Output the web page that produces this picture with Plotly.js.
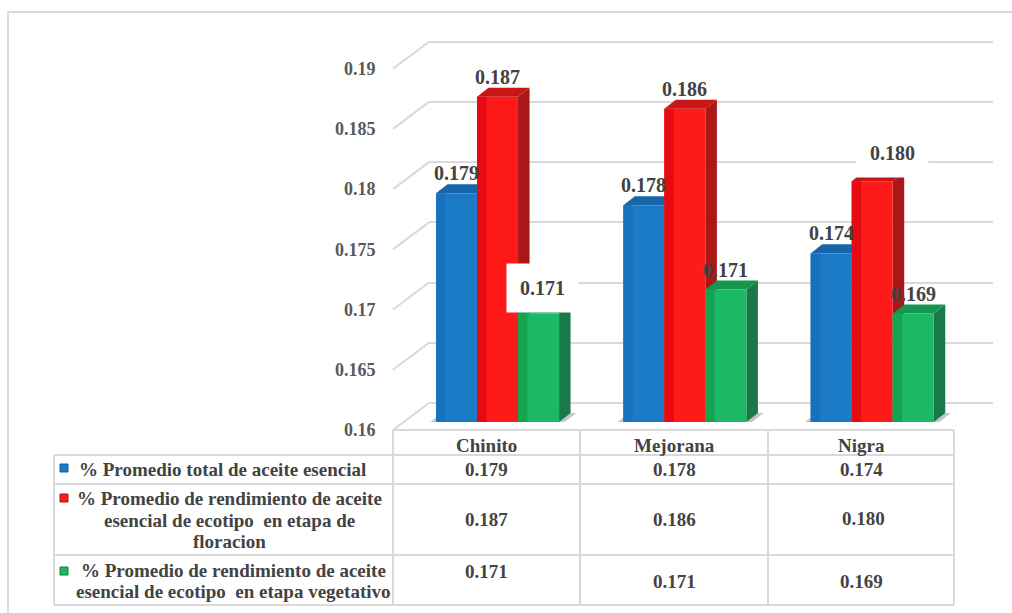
<!DOCTYPE html>
<html>
<head>
<meta charset="utf-8">
<script src="https://cdn.plot.ly/plotly-3.0.1.min.js"></script>
<style>html,body{margin:0;padding:0;background:#fff;}#chart{width:1012px;height:613px;}</style>
</head>
<body>
<div id="chart"></div>
<script>
// ---------- data ----------
const categories = ['Chinito', 'Mejorana', 'Nigra'];
const seriesNames = [
  '% Promedio total de aceite esencial',
  '% Promedio de rendimiento de aceite<br>esencial de ecotipo  en etapa de<br>floracion',
  '% Promedio de rendimiento de aceite<br>esencial de ecotipo  en etapa vegetativo'
];
// bar heights as drawn
const totalValues      = [0.179, 0.178, 0.174];
const floracionValues  = [0.187, 0.186, 0.180];
const vegetativoValues = [0.169, 0.171, 0.169];
// printed labels / table values
const totalLabels      = ['0.179', '0.178', '0.174'];
const floracionLabels  = ['0.187', '0.186', '0.180'];
const vegetativoLabels = ['0.171', '0.171', '0.169'];
const yTickValues = [0.16, 0.165, 0.17, 0.175, 0.18, 0.185, 0.19];
const yTickText   = ['0.16', '0.165', '0.17', '0.175', '0.18', '0.185', '0.19'];

// ---------- styling / geometry ----------
const W = 1012, H = 613;
const PX = p => p / W;             // pixel -> paper x
const PY = p => 1 - p / H;         // pixel -> paper y
const yMin = 0.16, yMax = 0.19;
const fontFam = 'Liberation Serif, Times New Roman, serif';
const txtColor = '#434343';
const gridColor = '#d9d9d9';

const front = ['#1b7bc6', '#ff1a1a', '#1bb865'];
const bevel = ['#1872bb', '#e60a12', '#14a452'];
const side  = ['#145d97', '#a91717', '#1a7a47'];
const top_  = ['#1766a9', '#c81515', '#16954f'];

const barW = 0.219;
const bevelW = 0.05;
const offsets = [-0.2705, -0.0515, 0.1675];
const depthX = 0.0614;     // category units
const depthY = 0.00075;    // value units

const values = [totalValues, floracionValues, vegetativoValues];
const labels = [totalLabels, floracionLabels, vegetativoLabels];
const xIdx = categories.map((c, i) => i);

const traces = [];
// back-wall grid subplot (drawn first)
traces.push({type: 'scatter', x: [0, 1], y: [yMin, yMax], mode: 'none',
  xaxis: 'x', yaxis: 'y', hoverinfo: 'skip', showlegend: false});
// bars: front face + left bevel strip
values.forEach((vals, s) => {
  traces.push({type: 'bar', x: xIdx, y: vals, offset: offsets[s], width: barW,
    marker: {color: front[s], line: {width: 0}},
    name: seriesNames[s].replace(/<br>/g, ' '), hoverinfo: 'skip', showlegend: false,
    xaxis: 'x2', yaxis: 'y2'});
  traces.push({type: 'bar', x: xIdx, y: vals, offset: offsets[s], width: bevelW,
    marker: {color: bevel[s], line: {width: 0}},
    hoverinfo: 'skip', showlegend: false, xaxis: 'x2', yaxis: 'y2'});
});
// front value axis (tick labels)
traces.push({type: 'scatter', x: [0, 1], y: [yMin, yMax], mode: 'none',
  xaxis: 'x2', yaxis: 'y3', hoverinfo: 'skip', showlegend: false});

const shapes = [];
// outer frame
shapes.push({type: 'line', xref: 'paper', yref: 'paper', x0: PX(7), x1: PX(1012), y0: PY(12), y1: PY(12), line: {color: gridColor, width: 2}});
shapes.push({type: 'line', xref: 'paper', yref: 'paper', x0: PX(8), x1: PX(8), y0: PY(12), y1: PY(613), line: {color: gridColor, width: 2}});

// side-wall diagonals from the front tick positions to the back wall
const frontDom = [PY(430), PY(68.7)];
const backDom = [PY(403), PY(41.7)];
const toDom = (v, d) => d[0] + (v - yMin) / (yMax - yMin) * (d[1] - d[0]);
yTickValues.forEach(v => {
  shapes.push({type: 'line', xref: 'paper', yref: 'paper', layer: 'below',
    x0: PX(393), x1: PX(429), y0: toDom(v, frontDom), y1: toDom(v, backDom),
    line: {color: gridColor, width: 2}});
});

// floor shadows
categories.forEach((c, i) => {
  const l = i + offsets[0] - 0.03, r = i + offsets[2] + barW + depthX + 0.03;
  shapes.push({type: 'path', xref: 'x2', yref: 'y2', layer: 'below',
    path: `M${l},${yMin} L${r - depthX},${yMin} L${r},${yMin + depthY} L${l + depthX},${yMin + depthY} Z`,
    fillcolor: 'rgba(90,90,90,0.35)', line: {width: 0}});
});

// 3D side and top faces
values.forEach((vals, s) => {
  vals.forEach((v, i) => {
    const xl = i + offsets[s], xr = xl + barW;
    shapes.push({type: 'path', xref: 'x2', yref: 'y2', layer: 'below',
      path: `M${xr},${yMin} L${xr},${v} L${xr + depthX},${v + depthY} L${xr + depthX},${yMin + depthY} Z`,
      fillcolor: side[s], line: {width: 0}});
    shapes.push({type: 'path', xref: 'x2', yref: 'y2', layer: 'below',
      path: `M${xl},${v} L${xr},${v} L${xr + depthX},${v + depthY} L${xl + depthX},${v + depthY} Z`,
      fillcolor: top_[s], line: {width: 0}});
  });
});

// data table borders
const hLines = [[430, 393, 954], [455, 54, 954], [484, 54, 954], [555, 54, 954], [605, 54, 954]];
hLines.forEach(([y, a, b]) => shapes.push({type: 'line', xref: 'paper', yref: 'paper',
  x0: PX(a), x1: PX(b), y0: PY(y), y1: PY(y), line: {color: gridColor, width: 2}}));
const vLines = [[54, 455, 605], [393, 430, 605], [580, 430, 605], [768, 430, 605], [954, 430, 605]];
vLines.forEach(([x, a, b]) => shapes.push({type: 'line', xref: 'paper', yref: 'paper',
  x0: PX(x), x1: PX(x), y0: PY(a), y1: PY(b), line: {color: gridColor, width: 2}}));

// legend keys in the table
const keyY = [468, 498, 571];
keyY.forEach((y, s) => shapes.push({type: 'rect', xref: 'paper', yref: 'paper',
  x0: PX(60), x1: PX(68), y0: PY(y - 4), y1: PY(y + 4),
  fillcolor: front[s], line: {color: side[s], width: 1}}));

const annotations = [];
const fnt = (size) => ({family: fontFam, size: size, color: txtColor, weight: 'bold'});

// bar data labels
values.forEach((vals, s) => {
  vals.forEach((v, i) => {
    const boxed = (s === 2 && i === 0) || (s === 1 && i === 2);
    let xs = 0, ys = 20;
    if (s === 2 && i === 0) { xs = 4; ys = 26; }
    if (s === 1 && i === 2) { xs = 20; ys = 28; }
    annotations.push({xref: 'x2', yref: 'y2', x: i + offsets[s] + barW / 2, y: v,
      text: labels[s][i], showarrow: false, xanchor: 'center', yanchor: 'middle',
      xshift: xs, yshift: ys, font: fnt(20),
      bgcolor: boxed ? '#ffffff' : 'rgba(0,0,0,0)', borderpad: boxed ? 13 : 0});
  });
});

// table header
const colCenters = [486.5, 674, 861];
categories.forEach((c, i) => annotations.push({xref: 'paper', yref: 'paper',
  x: PX(colCenters[i]), y: PY(445), text: c, showarrow: false, font: fnt(19),
  xanchor: 'center', yanchor: 'middle'}));

// row labels (one annotation per line, tight line spacing)
const rowCenters = [469, 520, 581];
const rowX = [77, 229, 233];
seriesNames.forEach((name, s) => {
  const lines = name.split('<br>');
  lines.forEach((ln, k) => annotations.push({xref: 'paper', yref: 'paper',
    x: PX(rowX[s]), y: PY(rowCenters[s] + (k - (lines.length - 1) / 2) * 21.5),
    text: ln, showarrow: false, font: fnt(19),
    xanchor: s === 0 ? 'left' : 'center', yanchor: 'middle'}));
});

// table values
const rowY = [[469, 469, 469], [519, 519, 518], [571, 581, 581]];
labels.forEach((row, s) => row.forEach((t, i) => annotations.push({xref: 'paper', yref: 'paper',
  x: PX(colCenters[i] + (s === 1 && i === 2 ? 2 : 0)), y: PY(rowY[s][i]), text: t, showarrow: false,
  font: fnt(19), xanchor: 'center', yanchor: 'middle'})));

const pad = 0.0005;   // keeps the end grid lines inside the range
const layout = {
  width: W, height: H,
  margin: {l: 0, r: 0, t: 0, b: 0},
  paper_bgcolor: '#ffffff', plot_bgcolor: 'rgba(0,0,0,0)',
  barmode: 'overlay', showlegend: false,
  // back wall grid
  xaxis: {domain: [PX(429), PX(993)], range: [0, 1], anchor: 'y', visible: false, fixedrange: true},
  yaxis: {domain: [PY(403 + 6.02), PY(41.7 - 6.02)], range: [yMin - pad, yMax + pad], anchor: 'x',
    tickmode: 'array', tickvals: yTickValues, showticklabels: false, ticks: '',
    showgrid: true, gridcolor: gridColor, gridwidth: 2, zeroline: false, showline: false, fixedrange: true},
  // bars
  xaxis2: {domain: [PX(393), PX(955)], range: [-0.5, 2.5], anchor: 'y2', visible: false, fixedrange: true},
  yaxis2: {domain: [PY(422), PY(60.7)], range: [yMin, yMax], anchor: 'x2', visible: false, fixedrange: true},
  // front tick labels
  yaxis3: {domain: [PY(430), PY(68.7)], range: [yMin, yMax], anchor: 'x2',
    tickmode: 'array', tickvals: yTickValues, ticktext: yTickText,
    showgrid: false, zeroline: false, showline: false,
    ticks: 'outside', ticklen: 13, tickcolor: 'rgba(0,0,0,0)',
    tickfont: {family: fontFam, size: 18, color: '#595959', weight: 'bold'}, fixedrange: true},
  shapes: shapes,
  annotations: annotations
};

Plotly.newPlot('chart', traces, layout, {staticPlot: true, displayModeBar: false});
</script>
</body>
</html>
